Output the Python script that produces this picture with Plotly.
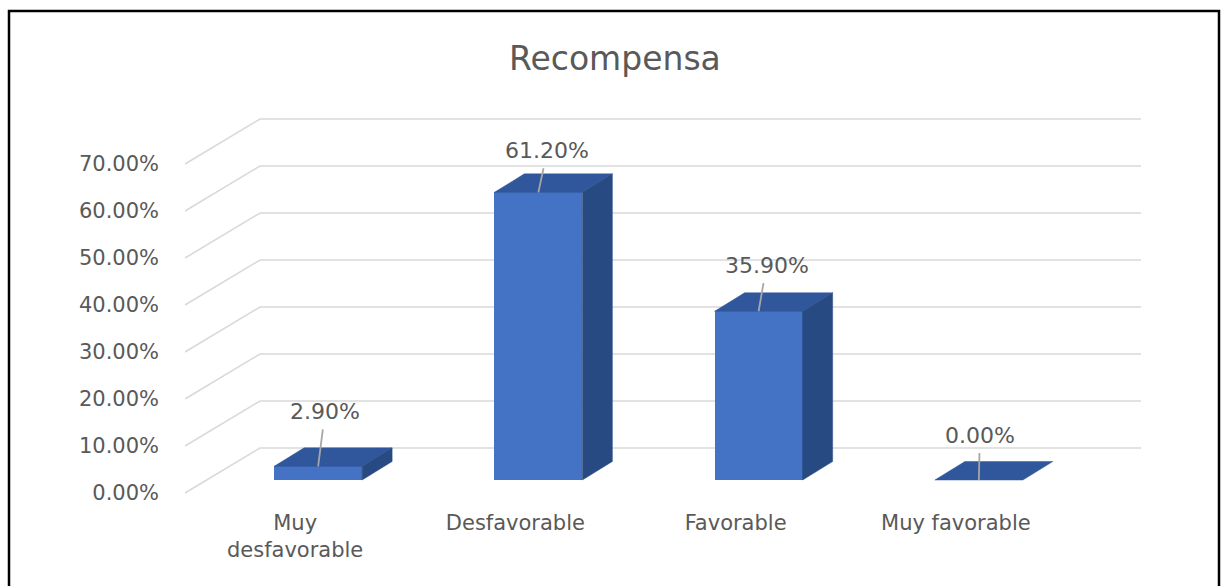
import plotly.graph_objects as go

# Chart data
categories = ["Muy desfavorable", "Desfavorable", "Favorable", "Muy favorable"]
tick_text = ["Muy<br>desfavorable", "Desfavorable", "Favorable", "Muy favorable"]
values = [2.9, 61.2, 35.9, 0.0]
y_ticks = [0, 10, 20, 30, 40, 50, 60, 70]
title = "Recompensa"

# Canvas / plot-area geometry (pixels)
W, H = 1221, 586
L, R, T, B = 185, 80, 100, 86
plot_w = W - L - R
plot_h = H - T - B
PX_X = 220.25            # pixels per category
PX_Y = 4.7               # pixels per percentage point
FRONT_ZERO_PX = 493      # pixel row of 0% on the front plane

x_range = [-0.5, -0.5 + plot_w / PX_X]
y_range = [-(H - B - FRONT_ZERO_PX) / PX_Y, (FRONT_ZERO_PX - T) / PX_Y]

# Pseudo-3D depth offsets, expressed in axis units
WALL_DX, WALL_DY = 75 / PX_X, 45 / PX_Y     # back wall depth
BAR_DX, BAR_DY = 23 / PX_X, 13 / PX_Y       # bars sit slightly behind the front plane
SIDE_DX, SIDE_DY = 30 / PX_X, 18.5 / PX_Y   # bar depth
HALF_W = 44 / PX_X                          # half bar width

FRONT = "#4472c4"
TOP = "#30569b"
SIDE = "#284a82"
TEXT = "#595959"
GRID = "#d9d9d9"
FONT = "DejaVu Sans"

fig = go.Figure()

# Gridlines: slanted floor-to-wall segment plus horizontal line on the back wall
shapes = []
for v in y_ticks:
    x0 = x_range[0]
    path = (f"M {x0},{v} L {x0 + WALL_DX},{v + WALL_DY} "
            f"L {x_range[1]},{v + WALL_DY}")
    shapes.append(dict(type="path", path=path, xref="x", yref="y",
                       line=dict(color=GRID, width=1.6), layer="below"))

# Top and side faces of every bar
for i, v in enumerate(values):
    cx = i + BAR_DX
    x0, x1 = cx - HALF_W, cx + HALF_W
    base, top = BAR_DY, BAR_DY + v
    fig.add_trace(go.Scatter(
        x=[x0, x1, x1 + SIDE_DX, x0 + SIDE_DX, x0],
        y=[top, top, top + SIDE_DY, top + SIDE_DY, top],
        fill="toself", fillcolor=TOP, mode="lines",
        line=dict(color=TOP, width=0.5), hoverinfo="skip", showlegend=False))
    if v > 0:
        fig.add_trace(go.Scatter(
            x=[x1, x1, x1 + SIDE_DX, x1 + SIDE_DX, x1],
            y=[base, top, top + SIDE_DY, base + SIDE_DY, base],
            fill="toself", fillcolor=SIDE, mode="lines",
            line=dict(color=SIDE, width=0.5), hoverinfo="skip", showlegend=False))

# Front faces
fig.add_trace(go.Bar(
    x=[i + BAR_DX for i in range(len(values))],
    y=values, base=BAR_DY, width=2 * HALF_W,
    marker=dict(color=FRONT, line=dict(width=0)),
    hovertext=categories, showlegend=False))

# Value labels with leader lines
label_offsets = [(7, -55), (9, -42), (8, -46), (1, -45)]
annotations = []
for i, v in enumerate(values):
    ax, ay = label_offsets[i]
    annotations.append(dict(
        x=i + BAR_DX, y=BAR_DY + v, xref="x", yref="y",
        text=f"{v:.2f}%", showarrow=True, arrowhead=0, arrowwidth=1.8,
        arrowcolor="#a6a6a6", ax=ax, ay=ay, startstandoff=4,
        font=dict(family=FONT, size=22, color=TEXT)))

# Title
annotations.append(dict(
    text=title, xref="paper", yref="paper",
    x=(615 - L) / plot_w, y=(H - B - 58) / plot_h,
    xanchor="center", yanchor="middle", showarrow=False,
    font=dict(family=FONT, size=33, color=TEXT)))

# Chart border
shapes.append(dict(type="rect", xref="paper", yref="paper",
                   x0=(9 - L) / plot_w, x1=(1219 - L) / plot_w,
                   y0=(H - B - 600) / plot_h, y1=(H - B - 11) / plot_h,
                   line=dict(color="#000000", width=2.5), layer="above"))

fig.update_layout(
    width=W, height=H,
    margin=dict(l=L, r=R, t=T, b=B),
    paper_bgcolor="white", plot_bgcolor="white",
    shapes=shapes, annotations=annotations,
    bargap=0,
    xaxis=dict(range=x_range, tickvals=list(range(len(categories))),
               ticktext=tick_text, showgrid=False, zeroline=False,
               showline=False, ticks="", ticklabelstandoff=8,
               tickfont=dict(family=FONT, size=21, color=TEXT)),
    yaxis=dict(range=y_range, tickvals=y_ticks,
               ticktext=[f"{t:.2f}%" for t in y_ticks],
               showgrid=False, zeroline=False, showline=False, ticks="",
               ticklabelstandoff=25,
               tickfont=dict(family=FONT, size=21, color=TEXT)),
)

fig.write_html("out.html")
